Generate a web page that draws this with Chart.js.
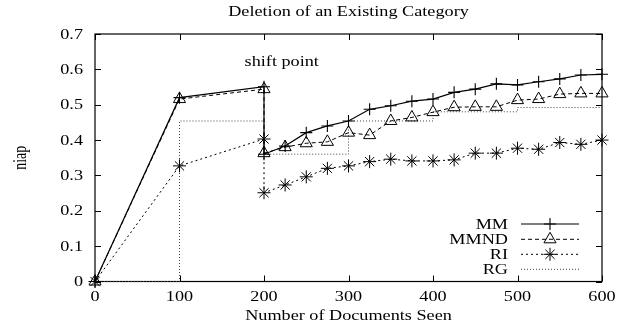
<!DOCTYPE html>
<html>
<head>
<meta charset="utf-8">
<script src="https://cdn.jsdelivr.net/npm/chart.js@4/dist/chart.umd.min.js"></script>
<style>
  html, body { margin: 0; padding: 0; background: #fff; }
  #chart { display: block; }
</style>
</head>
<body>
<canvas id="chart" width="624" height="332"></canvas>
<script>
// Data
const docsSeen = [0, 100, 200, 200, 225, 250, 275, 300, 325, 350, 375, 400, 425, 450, 475, 500, 525, 550, 575, 600];
const mmValues = [0, 0.52, 0.551, 0.36, 0.383, 0.421, 0.44, 0.454, 0.487, 0.497, 0.51, 0.516, 0.535, 0.544, 0.559, 0.556, 0.565, 0.573, 0.584, 0.586];
const mmndValues = [0, 0.516, 0.544, 0.363, 0.38, 0.391, 0.395, 0.421, 0.414, 0.454, 0.464, 0.479, 0.493, 0.494, 0.494, 0.513, 0.516, 0.53, 0.532, 0.532];
const riValues = [0, 0.327, 0.403, 0.251, 0.273, 0.296, 0.32, 0.327, 0.339, 0.346, 0.341, 0.341, 0.344, 0.363, 0.363, 0.377, 0.374, 0.393, 0.388, 0.4];
const rgDocs = [0, 100, 200, 300, 400, 500, 600];
const rgValues = [0, 0.454, 0.36, 0.454, 0.48, 0.492, 0.492];

const seriesNames = ['MM', 'MMND', 'RI', 'RG'];
const xTicks = [0, 100, 200, 300, 400, 500, 600];
const yTicks = [0, 0.1, 0.2, 0.3, 0.4, 0.5, 0.6, 0.7];
const yTickLabels = ['0', '0.1', '0.2', '0.3', '0.4', '0.5', '0.6', '0.7'];

const chartTitle = 'Deletion of an Existing Category';
const xTitle = 'Number of Documents Seen';
const yTitle = 'niap';
const shiftNote = { text: 'shift point', x: 221, y: 0.62 };

const FONT = '14px "Liberation Serif", "Times New Roman", serif';
const SX = 1.3; // the reference text is stretched sideways

function toPoints(xs, ys) {
  return xs.map((x, i) => ({ x: x, y: ys[i] }));
}

function stretchedText(ctx, str, x, y, align, rotate) {
  ctx.save();
  ctx.translate(x, y);
  ctx.scale(SX, 1);
  if (rotate) ctx.rotate(-Math.PI / 2);
  ctx.font = FONT;
  ctx.fillStyle = '#000';
  ctx.textAlign = align;
  ctx.textBaseline = 'alphabetic';
  ctx.fillText(str, 0, 0);
  ctx.restore();
}

// frame, inward ticks on all sides, labels, legend, note
const gnuplotLook = {
  id: 'gnuplotLook',
  beforeDatasetsDraw(chart) {
    const ctx = chart.ctx;
    const a = chart.chartArea;
    const xs = chart.scales.x;
    const ys = chart.scales.y;
    const tl = 6;
    ctx.save();
    ctx.strokeStyle = '#000';
    ctx.lineWidth = 1.2;
    ctx.strokeRect(a.left, a.top, a.right - a.left, a.bottom - a.top);
    ctx.lineWidth = 1;
    ctx.beginPath();
    xTicks.forEach(v => {
      const px = Math.round(xs.getPixelForValue(v)) + 0.5;
      ctx.moveTo(px, a.bottom); ctx.lineTo(px, a.bottom - tl);
      ctx.moveTo(px, a.top); ctx.lineTo(px, a.top + tl);
    });
    yTicks.forEach(v => {
      const py = Math.round(ys.getPixelForValue(v)) + 0.5;
      ctx.moveTo(a.left, py); ctx.lineTo(a.left + tl, py);
      ctx.moveTo(a.right, py); ctx.lineTo(a.right - tl, py);
    });
    ctx.stroke();
    ctx.restore();

    // tick labels
    xTicks.forEach(v => {
      stretchedText(ctx, String(v), xs.getPixelForValue(v), a.bottom + 19.5, 'center');
    });
    yTicks.forEach((v, i) => {
      stretchedText(ctx, yTickLabels[i], a.left - 12, ys.getPixelForValue(v) + 4.7, 'right');
    });

    // titles
    const cx = (a.left + a.right) / 2;
    stretchedText(ctx, chartTitle, cx, 16, 'center');
    stretchedText(ctx, xTitle, cx, a.bottom + 38.5, 'center');
    stretchedText(ctx, yTitle, 26, (a.top + a.bottom) / 2, 'center', true);

    // annotation
    stretchedText(ctx, shiftNote.text, xs.getPixelForValue(shiftNote.x), ys.getPixelForValue(shiftNote.y) + 4, 'center');
  },
  afterDatasetsDraw(chart) {
    const ctx = chart.ctx;
    const rows = [224, 239.3, 254.3, 269.3];
    chart.data.datasets.forEach((ds, i) => {
      const y = rows[i];
      stretchedText(ctx, seriesNames[i], 508, y + 4.7, 'right');
      ctx.save();
      ctx.strokeStyle = ds.borderColor;
      ctx.lineWidth = ds.borderWidth;
      ctx.setLineDash(ds.borderDash || []);
      ctx.beginPath();
      ctx.moveTo(521, y);
      ctx.lineTo(579, y);
      ctx.stroke();
      ctx.setLineDash([]);
      if (ds.pointRadius > 0) {
        ctx.strokeStyle = '#000';
        ctx.fillStyle = 'rgba(0,0,0,0)';
        ctx.lineWidth = ds.pointBorderWidth;
        Chart.helpers.drawPoint(ctx, { pointStyle: ds.pointStyle, radius: ds.pointRadius, rotation: 0, borderWidth: ds.pointBorderWidth }, 550, y);
      }
      ctx.restore();
    });
  }
};

const ctx = document.getElementById('chart').getContext('2d');
const chart = new Chart(ctx, {
  type: 'line',
  data: {
    datasets: [
      {
        label: seriesNames[0],
        data: toPoints(docsSeen, mmValues),
        borderColor: '#000',
        borderWidth: 1.2,
        pointStyle: 'cross',
        pointRadius: 6,
        pointBorderWidth: 1.1,
        pointBorderColor: '#000',
        pointBackgroundColor: 'rgba(0,0,0,0)',
        clip: false
      },
      {
        label: seriesNames[1],
        data: toPoints(docsSeen, mmndValues),
        borderColor: '#000',
        borderWidth: 1,
        borderDash: [4, 3],
        pointStyle: 'triangle',
        pointRadius: 7,
        pointBorderWidth: 1,
        pointBorderColor: '#000',
        pointBackgroundColor: 'rgba(0,0,0,0)',
        clip: false
      },
      {
        label: seriesNames[2],
        data: toPoints(docsSeen, riValues),
        borderColor: '#000',
        borderWidth: 1,
        borderDash: [2, 3],
        pointStyle: 'star',
        pointRadius: 6.5,
        pointBorderWidth: 1,
        pointBorderColor: '#000',
        pointBackgroundColor: 'rgba(0,0,0,0)',
        clip: false
      },
      {
        label: seriesNames[3],
        data: toPoints(rgDocs, rgValues),
        borderColor: '#444',
        borderWidth: 1,
        borderDash: [1, 2],
        pointRadius: 0,
        pointBorderWidth: 0,
        stepped: true,
        clip: false
      }
    ]
  },
  options: {
    responsive: false,
    animation: false,
    events: [],
    layout: { padding: { left: 95, right: 22, top: 34, bottom: 50.5 } },
    plugins: {
      legend: { display: false },
      tooltip: { enabled: false },
      title: { display: false }
    },
    elements: { line: { tension: 0, fill: false } },
    scales: {
      x: {
        type: 'linear',
        min: 0,
        max: 600,
        ticks: { display: false, stepSize: 100 },
        grid: { display: false, drawTicks: false },
        border: { display: false }
      },
      y: {
        type: 'linear',
        min: 0,
        max: 0.7,
        ticks: { display: false, stepSize: 0.1 },
        grid: { display: false, drawTicks: false },
        border: { display: false }
      }
    }
  },
  plugins: [gnuplotLook]
});
</script>
</body>
</html>
